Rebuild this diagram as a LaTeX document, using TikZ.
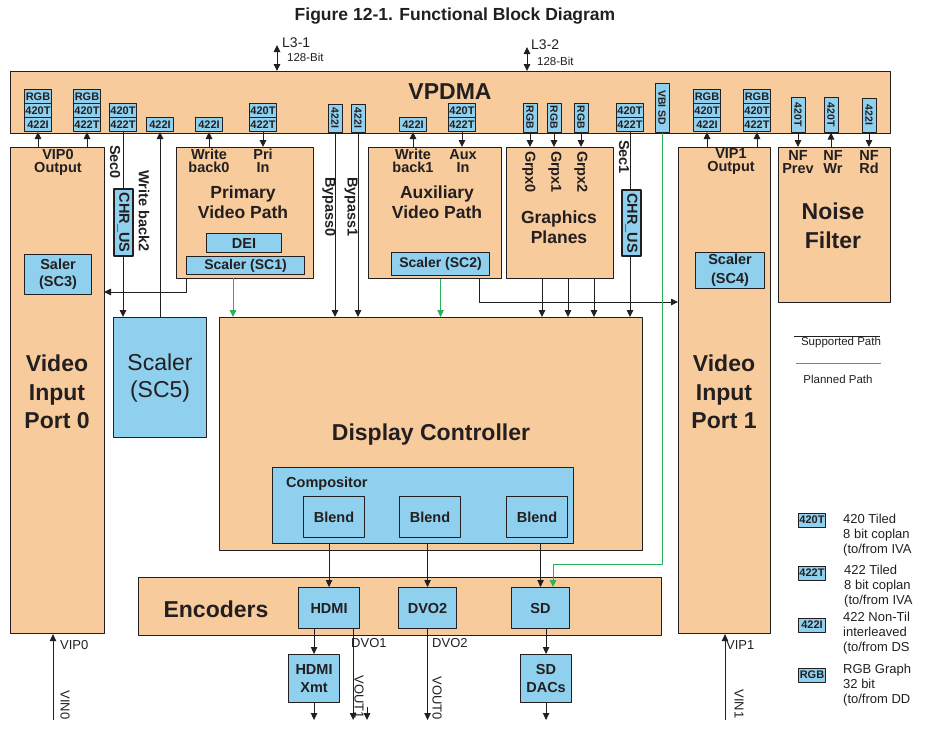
\documentclass[tikz,border=0pt]{standalone}
\usepackage{fontspec}
\setmainfont{Liberation Sans}
\usetikzlibrary{arrows.meta}
\definecolor{peach}{RGB}{248,203,156}
\definecolor{skyb}{RGB}{143,208,238}
\definecolor{plangreen}{RGB}{40,178,90}
\definecolor{ink}{RGB}{35,31,32}
\tikzset{
  blk/.style={draw=ink, line width=1.1pt, fill=peach, anchor=north west, inner sep=0pt},
  blu/.style={draw=ink, line width=1.1pt, fill=skyb, anchor=north west, inner sep=0pt, align=center, text=ink, font=\bfseries\fontsize{14.5}{18}\selectfont},
  port/.style={draw=ink, line width=1pt, fill=skyb, anchor=south west, inner sep=0pt, minimum width=27pt, minimum height=14pt, text=ink, font=\bfseries\fontsize{11}{11}\selectfont},
  vport/.style={draw=ink, line width=1pt, fill=skyb, rotate=-90, inner sep=0pt, minimum height=14pt, text=ink, font=\bfseries\fontsize{10.5}{11}\selectfont},
  lbl/.style={align=center, inner sep=0pt, text=ink, font=\bfseries\fontsize{14.5}{13}\selectfont},
  rlbl/.style={lbl, rotate=-90},
  big/.style={align=center, inner sep=0pt, text=ink, font=\bfseries\fontsize{17.5}{20.5}\selectfont},
  huge/.style={align=center, inner sep=0pt, text=ink, font=\bfseries\fontsize{23}{28.5}\selectfont},
  note/.style={inner sep=0pt, text=ink, font=\fontsize{13}{15}\selectfont},
  link/.style={->, line width=0.9pt, draw=ink},
  plan/.style={->, line width=0.9pt, draw=plangreen},
}
\begin{document}
\begin{tikzpicture}[x=1pt, y=-1pt, line join=round, >={Triangle[length=7pt,width=6.5pt]}]
\useasboundingbox (0,0) rectangle (927,740);
\node[font=\bfseries\fontsize{17.5}{18}\selectfont, text=ink] (title) at (455,16) {Figure 12-1. Functional Block Diagram};

\node[blk, minimum width=880, minimum height=62] (vpdma) at (10,71) {};
\node[huge] (vpdmalbl) at (450,92) {VPDMA};
\coordinate (l3a) at (277,45);
\coordinate (l3b) at (527,47);
\draw[<->, line width=0.9pt, ink] (l3a) -- (vpdma.north -| l3a);
\draw[<->, line width=0.9pt, ink] (l3b) -- (vpdma.north -| l3b);
\node[note, anchor=west, font=\fontsize{14}{14}\selectfont] (l3alab) at (282,43) {L3-1};
\node[note, anchor=west, font=\fontsize{11.5}{12}\selectfont] (l3abit) at (287,57) {128-Bit};
\node[note, anchor=west, font=\fontsize{14}{14}\selectfont] (l3blab) at (531,45) {L3-2};
\node[note, anchor=west, font=\fontsize{11.5}{12}\selectfont] (l3bbit) at (537,61) {128-Bit};

\foreach \nm/\xx/\labs in {pa/24/{422I,420T,RGB}, pb/73/{422T,420T,RGB}, pc/109/{422T,420T}, pd/146/{422I}, pe/195/{422I}, pf/249/{422T,420T}, pg/399/{422I}, ph/448/{422T,420T}, pi/616/{422T,420T}, pj/693/{422I,420T,RGB}, pk/743/{422T,420T,RGB}}
  \foreach \l [count=\i] in \labs
    \node[port] (\nm-\i) at (\xx,{132-14*(\i-1)}) {\l};
\foreach \nm/\xx/\tp/\l in {va/328/104/422I, vb/351/104/422I, vc/523/103/RGB, vd/547/103/RGB, ve/574/103/RGB, vf/655/83/VBI SD, vg/791/97/420T, vh/824/97/420T, vi/862/98/422I}
  \node[vport, minimum width={132-\tp}] (\nm) at ({\xx+7},{(\tp+132)/2}) {\l};

\node[blk, minimum width=94, minimum height=486] (vip0) at (10,147) {};
\node[blk, minimum width=137, minimum height=131] (pvp) at (176,147) {};
\node[blk, minimum width=133, minimum height=131] (avp) at (368,147) {};
\node[blk, minimum width=107, minimum height=131] (gfx) at (506,147) {};
\node[blk, minimum width=92, minimum height=486] (vip1) at (678,147) {};
\node[blk, minimum width=112, minimum height=155] (nf) at (778,147) {};
\node[blk, minimum width=423, minimum height=233] (dc) at (219,317) {};
\node[blk, minimum width=523, minimum height=58] (enc) at (138,577) {};
\node[blu, minimum width=93, minimum height=120, font=\fontsize{23}{27}\selectfont] (sc5) at (113,317) {Scaler\\(SC5)};

\node[lbl] (vip0out) at (58,162) {VIP0\\Output};
\node[huge] (vip0lbl) at (57,392) {Video\\Input\\Port 0};
\node[lbl] (wb0) at (209,161) {Write\\back0};
\node[lbl] (priin) at (263,161) {Pri\\In};
\node[big] (pvplbl) at (243,202) {Primary\\Video Path};
\node[lbl] (wb1) at (413,161) {Write\\back1};
\node[lbl] (auxin) at (463,161) {Aux\\In};
\node[big] (avplbl) at (437,202) {Auxiliary\\Video Path};
\foreach \xx/\g in {529/0,555/1,581/2}
  \node[rlbl] (grpx\g) at (\xx,172) {Grpx\g};
\node[big] (gfxlbl) at (559,227) {Graphics\\Planes};
\node[rlbl] (sec0) at (115,162) {Sec0};
\node[rlbl] (wb2) at (144,211) {Write back2};
\node[rlbl] (byp0) at (329,207) {Bypass0};
\node[rlbl] (byp1) at (351,207) {Bypass1};
\node[rlbl] (sec1) at (624,157) {Sec1};
\node[lbl] (vip1out) at (731,162) {VIP1\\Output};
\node[huge] (vip1lbl) at (724,392) {Video\\Input\\Port 1};
\foreach \xx/\s in {798/Prev,833/Wr,869/Rd}
  \node[lbl] (nf\s) at (\xx,162) {NF\\\s};
\node[huge] (nflbl) at (833,226) {Noise\\Filter};
\node[huge] (dclbl) at (431,435) {Display Controller};
\node[huge] (enclbl) at (216,609) {Encoders};

\draw[link] (pc-1.south) -- (sc5.north -| pc-1.south);
\draw[link] (pi-1.south) -- (dc.north -| pi-1.south);
\node[blu, anchor=center, rotate=-90, minimum width=67, minimum height=19] (chra) at (123.5,222.5) {CHR\_US};
\node[blu, anchor=center, rotate=-90, minimum width=66, minimum height=19] (chrb) at (631.5,223) {CHR\_US};

\node[blu, minimum width=67, minimum height=40, font=\bfseries\fontsize{14.5}{17}\selectfont] (sc3) at (24,254) {Saler\\(SC3)};
\node[blu, minimum width=69, minimum height=36, font=\bfseries\fontsize{14.5}{19}\selectfont] (sc4) at (695,252) {Scaler\\(SC4)};
\node[blu, minimum width=75, minimum height=19] (dei) at (206,233) {DEI};
\node[blu, minimum width=118, minimum height=18, font=\bfseries\fontsize{14}{14}\selectfont] (sc1) at (186,256) {Scaler (SC1)};
\node[blu, minimum width=98, minimum height=23, font=\bfseries\fontsize{14}{14}\selectfont] (sc2) at (391,252) {Scaler (SC2)};
\node[blu, minimum width=301, minimum height=76] (comp) at (272,467) {};
\node[lbl, anchor=west] (complbl) at (286,484) {Compositor};
\foreach \nm/\xx in {bla/303, blb/399, blc/506}
  \node[blu, minimum width=61, minimum height=41] (\nm) at (\xx,496) {Blend};
\node[blu, minimum width=61, minimum height=41] (hdmi) at (298,587) {HDMI};
\node[blu, minimum width=58, minimum height=41] (dvo) at (398,587) {DVO2};
\node[blu, minimum width=58, minimum height=41] (sd) at (511,587) {SD};
\node[blu, minimum width=51, minimum height=48] (xmt) at (288,654) {HDMI\\Xmt};
\node[blu, minimum width=51, minimum height=48] (dacs) at (520,654) {SD\\DACs};

\draw[link] (vip0.north -| pa-1.south) -- (pa-1.south);
\draw[link] (vip0.north -| pb-1.south) -- (pb-1.south);
\draw[link] (sc5.north -| pd-1.south) -- (pd-1.south);
\draw[link] (pvp.north -| pe-1.south) -- (pe-1.south);
\draw[link] (pf-1.south) -- (pvp.north -| pf-1.south);
\draw[link] (avp.north -| pg-1.south) -- (pg-1.south);
\draw[link] (ph-1.south) -- (avp.north -| ph-1.south);
\draw[link] (vip1.north -| pj-1.south) -- (pj-1.south);
\draw[link] (vip1.north -| pk-1.south) -- (pk-1.south);
\foreach \v in {va,vb}
  \draw[link] (\v.east) -- (dc.north -| \v.east);
\foreach \v in {vc,vd,ve,vg,vi}
  \draw[link] (\v.east) -- (vpdma.south |- pvp.north -| \v.east);
\draw[link] (nf.north -| vh.east) -- (vh.east);

\coordinate (vip0in) at (104,292);
\coordinate (vip1in) at (678,302);
\coordinate (avpout) at (479,278);
\coordinate (sc1out) at (233,278);
\draw[link] (sc1.west |- pvp.south) |- (vip0in);
\draw[link] (avpout) |- (vip1in);
\draw[plan] (sc1out) -- (sc1out |- dc.north);
\draw[plan] (sc2.south |- avp.south) -- (sc2.south |- dc.north);
\foreach \xx in {542,568,594}
  \draw[link] (gfx.south -| \xx,0) -- (dc.north -| \xx,0);
\foreach \e in {hdmi,dvo,sd}
  \draw[link] (comp.south -| \e.north) -- (\e.north);
\coordinate (vbiturn) at (553,564);
\draw[plan] (vf.east) |- (vbiturn) -- (vbiturn |- sd.north);

\coordinate (pins) at (0,720);
\coordinate (vin0) at (53,720);
\coordinate (vin1) at (725,720);
\coordinate (dvo1) at ([xshift=-7pt]hdmi.south east);
\coordinate (stub) at (367,707);
\draw[link] (vin0) -- (vin0 |- vip0.south);
\draw[link] (vin1) -- (vin1 |- vip1.south);
\draw[link] (hdmi.south -| xmt.north) -- (xmt.north);
\draw[link] (xmt.south) -- (xmt.south |- pins);
\draw[link] (dvo1) -- (dvo1 |- pins);
\draw[link] (stub) -- (stub |- pins);
\draw[link] (dvo.south) -- (dvo.south |- pins);
\draw[link] (sd.south -| dacs.north) -- (dacs.north);
\draw[link] (dacs.south) -- (dacs.south |- pins);
\node[note, anchor=west] (vip0pin) at (60,645) {VIP0};
\node[note, rotate=-90] (vin0lbl) at (65,705) {VIN0};
\node[note, anchor=west] (vip1pin) at (726,645) {VIP1};
\node[note, rotate=-90] (vin1lbl) at (739,704) {VIN1};
\node[note, anchor=west] (dvo1lbl) at (351,643) {DVO1};
\node[note, rotate=-90] (vout1) at (359,697) {VOUT1};
\node[note, anchor=west] (dvo2lbl) at (432,643) {DVO2};
\node[note, rotate=-90] (vout0) at (437,698) {VOUT0};

\draw[line width=0.9pt, ink] (794,336) -- (880,336);
\node[note, font=\fontsize{11.5}{12}\selectfont] (suplbl) at (841,343) {Supported Path};
\draw[line width=0.9pt, plangreen] (796,363) -- (881,363);
\node[note, font=\fontsize{11.5}{12}\selectfont] (planlbl) at (838,379) {Planned Path};
\foreach \nm/\yy/\l in {k420t/520/420T, k422t/573/422T, k422i/625/422I, krgb/675/RGB}
  \node[port, anchor=center] (\nm) at (812,\yy) {\l};
\node[note, anchor=west, align=left] (t420t) at (843,535) {420 Tiled\\8 bit coplan\\(to/from IVA};
\node[note, anchor=west, align=left] (t422t) at (844,586) {422 Tiled\\8 bit coplan\\(to/from IVA};
\node[note, anchor=west, align=left] (t422i) at (843,633) {422 Non-Til\\interleaved\\(to/from DS};
\node[note, anchor=west, align=left] (trgb) at (843,685) {RGB Graph\\32 bit\\(to/from DD};
\end{tikzpicture}
\end{document}
